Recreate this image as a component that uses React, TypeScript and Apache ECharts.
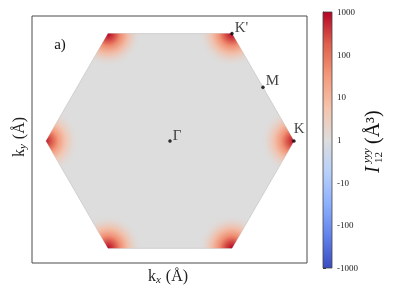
import React, { useEffect, useRef } from 'react';
import * as echarts from 'echarts';

// Brillouin-zone corners (1/Å), anticlockwise from K
const cornerX = [1, 0.5, -0.5, -1, -0.5, 0.5];
const cornerY = [0, 0.866, 0.866, 0, -0.866, -0.866];
// peak value of I_12^yyy at each corner (Å^3)
const cornerPeak = [800, 900, 1000, 600, 900, 1000];
// radial fall-off from a corner: distance (1/Å) and fraction of the peak
const profileDist = [0, 0.05, 0.1, 0.16, 0.27];
const profileFrac = [1, 0.3, 0.05, 0.01, 0.001];
// value in the interior of the zone
const interiorValue = 1;

// high-symmetry points
const pointNames = ['Γ', 'K', "K'", 'M'];
const pointX = [0, 1, 0.5, 0.75];
const pointY = [0, 0, 0.866, 0.433];

// colour bar (symlog positions and their labels)
const colorbarTicks = [-3, -2, -1, 0, 1, 2, 3];
const colorbarLabels = ['-1000', '-100', '-10', '1', '10', '100', '1000'];

// ---- styles ----
const SERIF = "'Liberation Serif', 'DejaVu Serif', serif";
const coolwarm = [
  [59, 76, 192], [98, 130, 234], [141, 176, 254], [184, 208, 249],
  [221, 221, 221], [245, 196, 173], [244, 154, 123], [222, 96, 77], [180, 4, 38],
];
const profileAlpha = [1, 1, 1, 0.85, 0];
const labelOffset: Record<string, number[]> = {
  'Γ': [1, -6], K: [-2, -13], "K'": [1, -7], M: [1, -7],
};

const symlog = (v: number) => (v >= 1 ? Math.log10(v) : v <= -1 ? -Math.log10(-v) : 0);
const cmap = (t: number) => {
  const c = Math.max(0, Math.min(1, t)) * (coolwarm.length - 1);
  const i = Math.min(coolwarm.length - 2, Math.floor(c));
  const f = c - i;
  return coolwarm[i].map((a, k) => Math.round(a + (coolwarm[i + 1][k] - a) * f));
};
const colorOf = (v: number, alpha = 1) => {
  const [r, g, b] = cmap((symlog(v) + 3) / 6);
  return `rgba(${r},${g},${b},${alpha})`;
};

export default function App() {
  const ref = useRef<HTMLDivElement>(null);
  useEffect(() => {
    if (!ref.current) return;
    const chart = echarts.init(ref.current, null, { renderer: 'svg' });
    const maxD = profileDist[profileDist.length - 1];
    const hexPts = (api: any) => cornerX.map((x, k) => api.coord([x, cornerY[k]]));

    const option: any = {
      animation: false,
      grid: [
        { left: 32, top: 16, width: 275, height: 247, show: true, borderColor: '#4a4a4a', borderWidth: 1, backgroundColor: 'transparent' },
        { left: 323, top: 12, width: 9, height: 256, show: false },
      ],
      xAxis: [
        { type: 'value', gridIndex: 0, min: -1.113, max: 1.105, show: false },
        { type: 'value', gridIndex: 1, min: 0, max: 1, show: false },
      ],
      yAxis: [
        { type: 'value', gridIndex: 0, min: -0.984, max: 1.008, show: false },
        {
          type: 'value', gridIndex: 1, position: 'right', min: -3, max: 3, interval: 1,
          axisLine: { show: true, lineStyle: { color: '#333', width: 1 } },
          axisTick: { show: true, length: 3, lineStyle: { color: '#333' } },
          splitLine: { show: false },
          axisLabel: {
            fontFamily: SERIF, fontSize: 9, color: '#222', margin: 5,
            formatter: (v: number) => colorbarLabels[colorbarTicks.indexOf(Math.round(v))] ?? '',
          },
        },
      ],
      series: [
        {
          type: 'custom', xAxisIndex: 0, yAxisIndex: 0, silent: true,
          data: [[0, 0, interiorValue]],
          renderItem: (_p: any, api: any) => ({
            type: 'polygon',
            shape: { points: hexPts(api) },
            style: { fill: colorOf(api.value(2)), stroke: '#bdbdbd', lineWidth: 0.6 },
          }),
        },
        {
          type: 'custom', xAxisIndex: 0, yAxisIndex: 0, silent: true,
          data: cornerX.map((x, i) => [x, cornerY[i], cornerPeak[i]]),
          renderItem: (_p: any, api: any) => {
            const c = api.coord([api.value(0), api.value(1)]);
            const unit = api.coord([1, 0])[0] - api.coord([0, 0])[0];
            const peak = api.value(2);
            const stops = profileDist.map((d, k) => ({
              offset: d / maxD,
              color: colorOf(peak * profileFrac[k], profileAlpha[k]),
            }));
            return {
              type: 'polygon',
              shape: { points: hexPts(api) },
              style: { fill: new echarts.graphic.RadialGradient(c[0], c[1], maxD * unit, stops, true) },
            };
          },
        },
        {
          type: 'scatter', xAxisIndex: 0, yAxisIndex: 0, symbol: 'circle', symbolSize: 3.5,
          itemStyle: { color: '#000' },
          label: { show: true, position: 'right', distance: 0, formatter: '{b}', fontFamily: SERIF, fontSize: 15, color: '#111' },
          data: pointNames.map((n, i) => ({ name: n, value: [pointX[i], pointY[i]], label: { offset: labelOffset[n] } })),
        },
        {
          type: 'custom', xAxisIndex: 1, yAxisIndex: 1, silent: true,
          data: [[0, -3, 1, 3]],
          renderItem: (_p: any, api: any) => {
            const a = api.coord([api.value(0), api.value(3)]);
            const b = api.coord([api.value(2), api.value(1)]);
            const n = coolwarm.length - 1;
            const stops = coolwarm.map((_c, k) => {
              const c = coolwarm[n - k];
              return { offset: k / n, color: `rgb(${c[0]},${c[1]},${c[2]})` };
            });
            return {
              type: 'rect',
              shape: { x: a[0], y: a[1], width: b[0] - a[0], height: b[1] - a[1] },
              style: { fill: new echarts.graphic.LinearGradient(0, 0, 0, 1, stops), stroke: '#444', lineWidth: 0.8 },
            };
          },
        },
      ],
      graphic: [
        { type: 'text', x: 60, y: 44, style: { text: 'a)', font: `15px ${SERIF}`, fill: '#111', align: 'center', verticalAlign: 'middle' } },
        {
          type: 'text', x: 168, y: 275,
          style: {
            text: '{a|k}{s|x}{a| (Å)}', align: 'center', verticalAlign: 'middle', fill: '#222',
            rich: { a: { fontFamily: SERIF, fontSize: 16, fill: '#222' }, s: { fontFamily: SERIF, fontSize: 11, fontStyle: 'italic', padding: [7, 1, 0, 0], fill: '#222' } },
          },
        },
        {
          type: 'text', x: 18, y: 137, rotation: Math.PI / 2,
          style: {
            text: '{a|k}{s|y}{a| (Å)}', align: 'center', verticalAlign: 'middle', fill: '#222',
            rich: { a: { fontFamily: SERIF, fontSize: 16, fill: '#222' }, s: { fontFamily: SERIF, fontSize: 11, fontStyle: 'italic', padding: [7, 1, 0, 0], fill: '#222' } },
          },
        },
        {
          type: 'group', x: 372, y: 135, rotation: Math.PI / 2,
          children: [
            { type: 'text', x: -38, y: 0, style: { text: 'I', font: `italic 20px ${SERIF}`, fill: '#111', align: 'left', verticalAlign: 'middle' } },
            { type: 'text', x: -28, y: -6, style: { text: 'yyy', font: `italic 11px ${SERIF}`, fill: '#111', align: 'left', verticalAlign: 'middle' } },
            { type: 'text', x: -28, y: 6, style: { text: '12', font: `11px ${SERIF}`, fill: '#111', align: 'left', verticalAlign: 'middle' } },
            { type: 'text', x: -9, y: 0, style: { text: '(Å³)', font: `20px ${SERIF}`, fill: '#111', align: 'left', verticalAlign: 'middle' } },
          ],
        },
      ],
    };
    chart.setOption(option);
    return () => chart.dispose();
  }, []);
  return <div ref={ref} style={{ position: 'fixed', left: 0, top: 0, width: 399, height: 299 }} />;
}
